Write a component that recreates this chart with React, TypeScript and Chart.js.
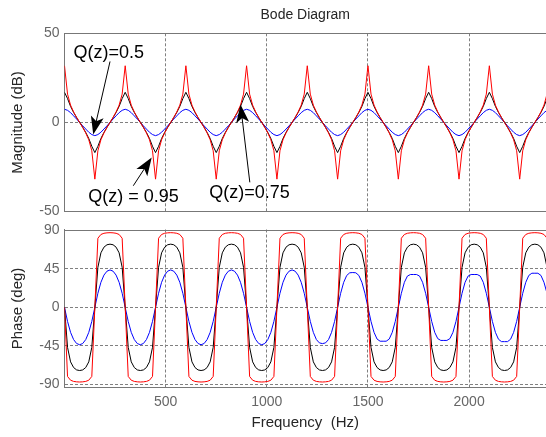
import React, { useEffect, useRef } from "react";
import { Chart, registerables } from "chart.js";

Chart.register(...registerables);

// ---------- data ----------
const freqs = [
  0, 15, 30, 45, 60, 75, 90, 105, 120, 135, 150, 165, 180, 195, 210, 225, 240, 255, 270, 285,
  300, 315, 330, 345, 360, 375, 390, 405, 420, 435, 450, 465, 480, 495, 510, 525, 540, 555, 570, 585,
  600, 615, 630, 645, 660, 675, 690, 705, 720, 735, 750, 765, 780, 795, 810, 825, 840, 855, 870, 885,
  900, 915, 930, 945, 960, 975, 990, 1005, 1020, 1035, 1050, 1065, 1080, 1095, 1110, 1125, 1140, 1155, 1170, 1185,
  1200, 1215, 1230, 1245, 1260, 1275, 1290, 1305, 1320, 1335, 1350, 1365, 1380, 1395, 1410, 1425, 1440, 1455, 1470, 1485,
  1500, 1515, 1530, 1545, 1560, 1575, 1590, 1605, 1620, 1635, 1650, 1665, 1680, 1695, 1710, 1725, 1740, 1755, 1770, 1785,
  1800, 1815, 1830, 1845, 1860, 1875, 1890, 1905, 1920, 1935, 1950, 1965, 1980, 1995, 2010, 2025, 2040, 2055, 2070, 2085,
  2100, 2115, 2130, 2145, 2160, 2175, 2190, 2205, 2220, 2235, 2250, 2265, 2280, 2295, 2310, 2325, 2340, 2355, 2370, 2385,
  2400,
];

// Magnitude (dB)
const magRed = [
  31.8, 15.9, 9.7, 5.9, 2.8, 0, -2.8, -5.9, -9.7, -15.9, -31.8, -15.9, -9.7, -5.9, -2.8, 0, 2.8, 5.9, 9.7, 15.9,
  31.8, 15.9, 9.7, 5.9, 2.8, 0, -2.8, -5.9, -9.7, -15.9, -31.8, -15.9, -9.7, -5.9, -2.8, 0, 2.8, 5.9, 9.7, 15.9,
  31.8, 15.9, 9.7, 5.9, 2.8, 0, -2.8, -5.9, -9.7, -15.9, -31.8, -15.9, -9.7, -5.9, -2.8, 0, 2.8, 5.9, 9.7, 15.9,
  31.8, 15.9, 9.7, 5.9, 2.8, 0, -2.8, -5.9, -9.7, -15.9, -31.8, -15.9, -9.7, -5.9, -2.8, 0, 2.8, 5.9, 9.7, 15.9,
  31.8, 15.9, 9.7, 5.9, 2.8, 0, -2.8, -5.9, -9.7, -15.9, -31.8, -15.9, -9.7, -5.9, -2.8, 0, 2.8, 5.9, 9.7, 15.9,
  31.8, 15.9, 9.7, 5.9, 2.8, 0, -2.8, -5.9, -9.7, -15.9, -31.8, -15.9, -9.7, -5.9, -2.8, 0, 2.8, 5.9, 9.7, 15.9,
  31.8, 15.9, 9.7, 5.9, 2.8, 0, -2.8, -5.9, -9.7, -15.9, -31.8, -15.9, -9.7, -5.9, -2.8, 0, 2.8, 5.9, 9.7, 15.9,
  31.8, 15.9, 9.7, 5.9, 2.8, 0, -2.8, -5.9, -9.7, -15.9, -31.8, -15.9, -9.7, -5.9, -2.8, 0, 2.8, 5.9, 9.7, 15.9,
  31.8,
];
const magBlack = [
  16.9, 13.4, 9.0, 5.6, 2.7, 0, -2.7, -5.6, -9.0, -13.4, -16.9, -13.4, -9.0, -5.6, -2.7, 0, 2.7, 5.6, 9.0, 13.4,
  16.9, 13.4, 9.0, 5.6, 2.7, 0, -2.7, -5.6, -9.0, -13.4, -16.9, -13.4, -9.0, -5.6, -2.7, 0, 2.7, 5.6, 9.0, 13.4,
  16.9, 13.4, 9.0, 5.6, 2.7, 0, -2.7, -5.6, -9.0, -13.4, -16.9, -13.4, -9.0, -5.6, -2.7, 0, 2.7, 5.6, 9.0, 13.4,
  16.9, 13.4, 9.0, 5.6, 2.7, 0, -2.7, -5.6, -9.0, -13.4, -16.9, -13.4, -9.0, -5.6, -2.7, 0, 2.7, 5.6, 9.0, 13.4,
  16.9, 13.4, 9.0, 5.6, 2.7, 0, -2.7, -5.6, -9.0, -13.4, -16.9, -13.4, -9.0, -5.6, -2.7, 0, 2.7, 5.6, 9.0, 13.4,
  16.9, 13.4, 9.0, 5.6, 2.7, 0, -2.7, -5.6, -9.0, -13.4, -16.9, -13.4, -9.0, -5.6, -2.7, 0, 2.7, 5.6, 9.0, 13.4,
  16.9, 13.4, 9.0, 5.6, 2.7, 0, -2.7, -5.6, -9.0, -13.4, -16.9, -13.4, -9.0, -5.6, -2.7, 0, 2.7, 5.6, 9.0, 13.4,
  16.9, 13.4, 9.0, 5.6, 2.7, 0, -2.7, -5.6, -9.0, -13.4, -16.9, -13.4, -9.0, -5.6, -2.7, 0, 2.7, 5.6, 9.0, 13.4,
  16.9,
];
const magBlue = [
  7.4, 6.8, 5.5, 3.7, 1.9, 0, -1.9, -3.7, -5.5, -6.8, -7.4, -6.8, -5.5, -3.7, -1.9, 0, 1.9, 3.7, 5.5, 6.8,
  7.4, 6.8, 5.5, 3.7, 1.9, 0, -1.9, -3.7, -5.5, -6.8, -7.4, -6.8, -5.5, -3.7, -1.9, 0, 1.9, 3.7, 5.5, 6.8,
  7.4, 6.8, 5.5, 3.7, 1.9, 0, -1.9, -3.7, -5.5, -6.8, -7.4, -6.8, -5.5, -3.7, -1.9, 0, 1.9, 3.7, 5.5, 6.8,
  7.4, 6.8, 5.5, 3.7, 1.9, 0, -1.9, -3.7, -5.5, -6.8, -7.4, -6.8, -5.5, -3.7, -1.9, 0, 1.9, 3.7, 5.5, 6.8,
  7.4, 6.8, 5.5, 3.7, 1.9, 0, -1.9, -3.7, -5.5, -6.8, -7.4, -6.8, -5.5, -3.7, -1.9, 0, 1.9, 3.7, 5.5, 6.8,
  7.4, 6.8, 5.5, 3.7, 1.9, 0, -1.9, -3.7, -5.5, -6.8, -7.4, -6.8, -5.5, -3.7, -1.9, 0, 1.9, 3.7, 5.5, 6.8,
  7.4, 6.8, 5.5, 3.7, 1.9, 0, -1.9, -3.7, -5.5, -6.8, -7.4, -6.8, -5.5, -3.7, -1.9, 0, 1.9, 3.7, 5.5, 6.8,
  7.4, 6.8, 5.5, 3.7, 1.9, 0, -1.9, -3.7, -5.5, -6.8, -7.4, -6.8, -5.5, -3.7, -1.9, 0, 1.9, 3.7, 5.5, 6.8,
  7.4,
];

// Phase (deg)
const phRed = [
  0, -80.6, -85.0, -86.4, -86.9, -87.1, -86.9, -86.4, -85.0, -80.6, 0, 80.6, 85.0, 86.4, 86.9, 87.1, 86.9, 86.4, 85.0, 80.6,
  0, -80.6, -85.0, -86.4, -86.9, -87.1, -86.9, -86.4, -85.0, -80.6, 0, 80.6, 85.0, 86.4, 86.9, 87.1, 86.9, 86.4, 85.0, 80.6,
  0, -80.6, -85.0, -86.4, -86.9, -87.1, -86.9, -86.4, -85.0, -80.6, 0, 80.6, 85.0, 86.4, 86.9, 87.1, 86.9, 86.4, 85.0, 80.6,
  0, -80.6, -85.0, -86.4, -86.9, -87.1, -86.9, -86.4, -85.0, -80.6, 0, 80.6, 85.0, 86.4, 86.9, 87.1, 86.9, 86.4, 85.0, 80.6,
  0, -80.6, -85.0, -86.4, -86.9, -87.1, -86.9, -86.4, -85.0, -80.6, 0, 80.6, 85.0, 86.4, 86.9, 87.1, 86.9, 86.4, 85.0, 80.6,
  0, -80.6, -85.0, -86.4, -86.9, -87.1, -86.9, -86.4, -85.0, -80.6, 0, 80.6, 85.0, 86.4, 86.9, 87.1, 86.9, 86.4, 85.0, 80.6,
  0, -80.6, -85.0, -86.4, -86.9, -87.1, -86.9, -86.4, -85.0, -80.6, 0, 80.6, 85.0, 86.4, 86.9, 87.1, 86.9, 86.4, 85.0, 80.6,
  0, -80.6, -85.0, -86.4, -86.9, -87.1, -86.9, -86.4, -85.0, -80.6, 0, 80.6, 85.0, 86.4, 86.9, 87.1, 86.9, 86.4, 85.0, 80.6,
  0,
];
const phBlack = [
  0, -46.7, -63.6, -70.2, -73.0, -73.7, -73.0, -70.2, -63.6, -46.7, 0, 46.7, 63.6, 70.2, 73.0, 73.7, 73.0, 70.2, 63.6, 46.7,
  0, -46.7, -63.6, -70.2, -73.0, -73.7, -73.0, -70.2, -63.6, -46.7, 0, 46.7, 63.6, 70.2, 73.0, 73.7, 73.0, 70.2, 63.6, 46.7,
  0, -46.7, -63.6, -70.2, -73.0, -73.7, -73.0, -70.2, -63.6, -46.7, 0, 46.7, 63.6, 70.2, 73.0, 73.7, 73.0, 70.2, 63.6, 46.7,
  0, -46.7, -63.6, -70.2, -73.0, -73.7, -73.0, -70.2, -63.6, -46.7, 0, 46.7, 63.6, 70.2, 73.0, 73.7, 73.0, 70.2, 63.6, 46.7,
  0, -46.7, -63.6, -70.2, -73.0, -73.7, -73.0, -70.2, -63.6, -46.7, 0, 46.7, 63.6, 70.2, 73.0, 73.7, 73.0, 70.2, 63.6, 46.7,
  0, -46.7, -63.6, -70.2, -73.0, -73.7, -73.0, -70.2, -63.6, -46.7, 0, 46.7, 63.6, 70.2, 73.0, 73.7, 73.0, 70.2, 63.6, 46.7,
  0, -46.7, -63.6, -70.2, -73.0, -73.7, -73.0, -70.2, -63.6, -46.7, 0, 46.7, 63.6, 70.2, 73.0, 73.7, 73.0, 70.2, 63.6, 46.7,
  0, -46.7, -63.6, -70.2, -73.0, -73.7, -73.0, -70.2, -63.6, -46.7, 0, 46.7, 63.6, 70.2, 73.0, 73.7, 73.0, 70.2, 63.6, 46.7,
  0,
];
const phBlue = [
  0, -16.4, -29.2, -37.6, -42.2, -43.6, -42.2, -37.6, -29.2, -16.4, 0, 16.4, 29.2, 37.6, 42.2, 43.6, 42.2, 37.6, 29.2, 16.4,
  0, -16.4, -29.2, -37.6, -42.2, -43.6, -42.2, -37.6, -29.2, -16.4, 0, 16.4, 29.2, 37.6, 42.2, 43.6, 42.2, 37.6, 29.2, 16.4,
  0, -16.4, -29.2, -37.6, -42.2, -43.6, -42.2, -37.6, -29.2, -16.4, 0, 16.4, 29.2, 37.6, 42.2, 43.6, 42.2, 37.6, 29.2, 16.4,
  0, -16.4, -29.2, -37.6, -42.2, -43.6, -42.2, -37.6, -29.2, -16.4, 0, 16.4, 29.2, 37.6, 42.2, 43.6, 42.2, 37.6, 29.2, 16.4,
  0, -16.4, -29.2, -37.6, -41.5, -42.3, -41.5, -37.6, -29.2, -16.4, 0, 16.4, 29.2, 37.2, 40.3, 40.6, 40.3, 37.2, 29.2, 16.4,
  0, -16.4, -29.2, -37.0, -39.5, -39.5, -39.5, -37.0, -29.2, -16.4, 0, 16.4, 29.2, 36.5, 38.3, 38.3, 38.3, 36.5, 29.2, 16.4,
  0, -16.4, -29.2, -36.5, -38.6, -38.6, -38.6, -36.5, -29.2, -16.4, 0, 16.4, 29.2, 36.5, 38.3, 38.3, 38.3, 36.5, 29.2, 16.4,
  0, -16.4, -29.2, -37.2, -40.0, -40.0, -40.0, -37.2, -29.2, -16.4, 0, 16.4, 29.2, 37.2, 39.8, 39.8, 39.8, 37.2, 29.2, 16.4,
  0,
];

const freqTicks = [500, 1000, 1500, 2000];
const magTicks = [-50, 0, 50];
const phaseTicks = [-90, -45, 0, 45, 90];

// annotation labels (data coordinates of the magnitude plot)
const annoTexts = ["Q(z)=0.5", "Q(z) = 0.95", "Q(z)=0.75"];
const annoTextAt = [[45, 36], [117, -44.6], [715, -42.4]];
const annoArrowFrom = [[225, 34.2], [340, -35.5], [916, -33.6]];
const annoArrowTo = [[142, -6.7], [431, -19.7], [870, 10]];

// ---------- styling ----------
const FONT = '"Liberation Sans", Arial, Helvetica, sans-serif';
const GRID = "#808080";
const BOX = "#777777";
const TICK = "#666666";
const TEXT = "#262626";

const toXY = (ys: number[]) => freqs.map((f, i) => ({ x: f, y: ys[i] }));

const lineDs = (data: number[], color: string) => ({
  data: toXY(data),
  borderColor: color,
  backgroundColor: color,
  borderWidth: 1,
  pointRadius: 0,
  fill: false,
  tension: 0,
});

const framePlugin = {
  id: "topFrame",
  beforeDatasetsDraw(chart: any) {
    const { ctx, chartArea: a } = chart;
    ctx.save();
    ctx.strokeStyle = BOX;
    ctx.lineWidth = 1;
    ctx.beginPath();
    ctx.moveTo(a.left, Math.round(a.top) + 0.5);
    ctx.lineTo(a.right, Math.round(a.top) + 0.5);
    ctx.stroke();
    ctx.restore();
  },
};

const annoPlugin = {
  id: "qLabels",
  afterDatasetsDraw(chart: any) {
    const { ctx } = chart;
    const xs = chart.scales.x;
    const ys = chart.scales.y;
    ctx.save();
    ctx.fillStyle = "#000";
    ctx.strokeStyle = "#000";
    ctx.lineWidth = 1;
    ctx.font = `18px ${FONT}`;
    ctx.textBaseline = "alphabetic";
    ctx.textAlign = "left";
    annoTexts.forEach((t, i) => {
      ctx.fillText(t, xs.getPixelForValue(annoTextAt[i][0]), ys.getPixelForValue(annoTextAt[i][1]));
      const x1 = xs.getPixelForValue(annoArrowFrom[i][0]);
      const y1 = ys.getPixelForValue(annoArrowFrom[i][1]);
      const x2 = xs.getPixelForValue(annoArrowTo[i][0]);
      const y2 = ys.getPixelForValue(annoArrowTo[i][1]);
      const ang = Math.atan2(y2 - y1, x2 - x1);
      const c = Math.cos(ang);
      const s = Math.sin(ang);
      const L = 18;
      const W = 6.5;
      ctx.beginPath();
      ctx.moveTo(x1, y1);
      ctx.lineTo(x2 - L * 0.7 * c, y2 - L * 0.7 * s);
      ctx.stroke();
      const bx = x2 - L * c;
      const by = y2 - L * s;
      const nx = x2 - L * 0.75 * c;
      const ny = y2 - L * 0.75 * s;
      ctx.beginPath();
      ctx.moveTo(x2, y2);
      ctx.lineTo(bx - s * W, by + c * W);
      ctx.lineTo(nx, ny);
      ctx.lineTo(bx + s * W, by - c * W);
      ctx.closePath();
      ctx.fill();
    });
    ctx.restore();
  },
};

const setTicks = (vals: number[]) => (scale: any) => {
  scale.ticks = vals.map((v) => ({ value: v }));
};

const yAxis = (min: number, max: number, ticks: number[], title: string) => ({
  type: "linear",
  min,
  max,
  afterBuildTicks: setTicks(ticks),
  afterFit: (s: any) => {
    s.width = 64.5;
  },
  ticks: {
    color: TICK,
    font: { family: FONT, size: 14 },
    padding: 5,
    callback: (v: any) => String(v),
  },
  grid: { color: GRID, lineWidth: 1, drawTicks: false },
  border: { display: true, color: BOX, width: 1, dash: [3, 2] },
  title: {
    display: true,
    text: title,
    color: TEXT,
    font: { family: FONT, size: 15 },
    padding: { top: 9, bottom: 0 },
  },
});

export default function App() {
  const topRef = useRef<HTMLCanvasElement>(null);
  const botRef = useRef<HTMLCanvasElement>(null);

  useEffect(() => {
    document.body.style.margin = "0";
    const TOP_H = 225;

    const top = new Chart(topRef.current as HTMLCanvasElement, {
      type: "line",
      data: {
        datasets: [lineDs(magRed, "#ff0000"), lineDs(magBlack, "#000000"), lineDs(magBlue, "#0000ff")],
      },
      options: {
        responsive: false,
        animation: false,
        events: [],
        layout: { padding: 0 },
        plugins: {
          legend: { display: false },
          tooltip: { enabled: false },
          title: {
            display: true,
            text: "Bode Diagram",
            color: TEXT,
            font: { family: FONT, size: 14, weight: "normal" },
            padding: { top: 6.5, bottom: 10 },
            fullSize: false,
          },
        },
        scales: {
          x: {
            type: "linear",
            min: 0,
            max: 2380,
            afterBuildTicks: setTicks(freqTicks),
            afterFit: (s: any) => {
              s.height = TOP_H - 212.7;
            },
            ticks: { display: false },
            grid: { color: GRID, lineWidth: 1, drawTicks: false },
            border: { display: true, color: BOX, width: 1, dash: [3, 2] },
          },
          y: yAxis(-50, 50, magTicks, "Magnitude (dB)"),
        },
      } as any,
      plugins: [framePlugin, annoPlugin],
    });

    const bot = new Chart(botRef.current as HTMLCanvasElement, {
      type: "line",
      data: {
        datasets: [lineDs(phRed, "#ff0000"), lineDs(phBlack, "#000000"), lineDs(phBlue, "#0000ff")],
      },
      options: {
        responsive: false,
        animation: false,
        events: [],
        layout: { padding: { top: 16.5, left: 0, right: 0, bottom: 0 } },
        plugins: {
          legend: { display: false },
          tooltip: { enabled: false },
          title: { display: false },
        },
        scales: {
          x: {
            type: "linear",
            min: 0,
            max: 2380,
            afterBuildTicks: setTicks(freqTicks),
            afterFit: (s: any) => {
              s.height = 49.5;
            },
            ticks: {
              color: TICK,
              font: { family: FONT, size: 14 },
              padding: 6,
              maxRotation: 0,
              callback: (v: any) => String(v),
            },
            grid: { color: GRID, lineWidth: 1, drawTicks: false },
            border: { display: true, color: BOX, width: 1, dash: [3, 2] },
            title: {
              display: true,
              text: "Frequency  (Hz)",
              color: TEXT,
              font: { family: FONT, size: 15 },
              padding: { top: 0, bottom: 5 },
            },
          },
          y: yAxis(-93.5, 90.8, phaseTicks, "Phase (deg)"),
        },
      } as any,
      plugins: [framePlugin],
    });

    return () => {
      top.destroy();
      bot.destroy();
    };
  }, []);

  return (
    <div style={{ position: "relative", width: 546, height: 437, overflow: "hidden" }}>
      <canvas
        ref={topRef}
        width={546}
        height={225}
        style={{ position: "absolute", left: 0, top: 0, display: "block" }}
      />
      <canvas
        ref={botRef}
        width={546}
        height={224}
        style={{ position: "absolute", left: 0, top: 213, display: "block" }}
      />
    </div>
  );
}
